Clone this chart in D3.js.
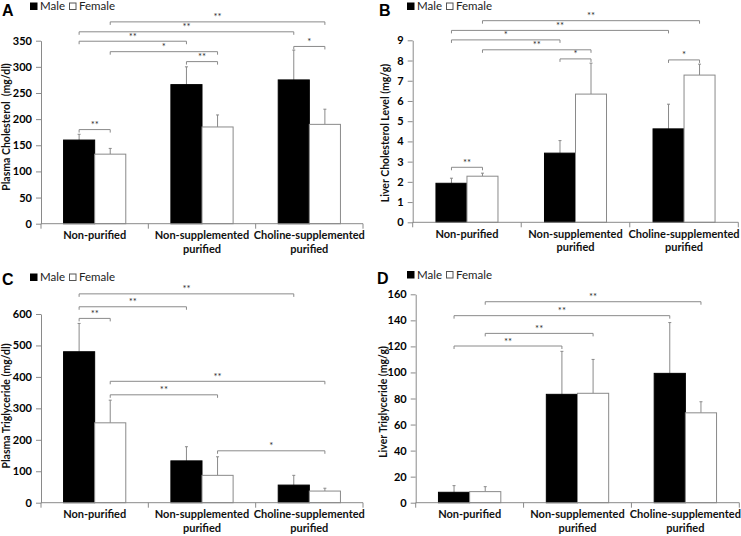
<!DOCTYPE html>
<html><head><meta charset="utf-8">
<script src="https://cdn.jsdelivr.net/npm/d3@7"></script>
<style>
body{margin:0;background:#fff;}
svg{display:block;font-family:Lato,"Open Sans",sans-serif;}
</style></head>
<body><svg id="chart" width="741" height="536"></svg>
<script>
// ---------- DATA ----------
const categories = [["Non-purified"], ["Non-supplemented","purified"], ["Choline-supplemented","purified"]];
const sexes = ["Male","Female"];

const plasmaCholMale = [160, 266, 275];
const plasmaCholMaleErr = [11, 34, 57];
const plasmaCholFemale = [133, 185, 190];
const plasmaCholFemaleErr = [11, 23, 29];
const plasmaCholTicks = [0,50,100,150,200,250,300,350];
// brackets: [cat,sex] -> [cat,sex], level (data units), label
const plasmaCholSig = [
  [[0,1],[2,1],386,"**"],[[0,0],[2,0],367,"**"],[[0,0],[1,0],349,"**"],
  [[0,1],[1,1],329,"*"],[[1,0],[1,1],310,"**"],[[2,0],[2,1],339,"*"],[[0,0],[0,1],180,"**"]];

const liverCholMale = [1.93, 3.42, 4.62];
const liverCholMaleErr = [0.25, 0.62, 1.22];
const liverCholFemale = [2.28, 6.34, 7.28];
const liverCholFemaleErr = [0.15, 1.53, 0.54];
const liverCholTicks = [0,1,2,3,4,5,6,7,8,9];
const liverCholSig = [
  [[0,1],[2,1],9.97,"**"],[[0,0],[2,0],9.49,"**"],[[0,0],[1,0],9.02,"*"],
  [[0,1],[1,1],8.53,"**"],[[1,0],[1,1],8.08,"*"],[[2,0],[2,1],8.03,"*"],[[0,0],[0,1],2.72,"**"]];

const plasmaTGMale = [480, 133, 56];
const plasmaTGMaleErr = [90, 45, 31];
const plasmaTGFemale = [254, 87, 37];
const plasmaTGFemaleErr = [72, 59, 9];
const plasmaTGTicks = [0,100,200,300,400,500,600];
const plasmaTGSig = [
  [[0,0],[2,0],664,"**"],[[0,0],[1,0],623,"**"],[[0,0],[0,1],586,"**"],
  [[0,1],[2,1],386,"**"],[[0,1],[1,1],343,"**"],[[1,1],[2,1],165,"*"]];

const liverTGMale = [8.0, 83.2, 99.3];
const liverTGMaleErr = [5.1, 33, 39];
const liverTGFemale = [8.5, 84, 69];
const liverTGFemaleErr = [3.8, 26, 8.5];
const liverTGTicks = [0,20,40,60,80,100,120,140,160];
const liverTGSig = [
  [[0,1],[2,1],154.3,"**"],[[0,0],[2,0],143.6,"**"],[[0,1],[1,1],130,"**"],[[0,0],[1,0],120.3,"**"]];

// ---------- DRAW ----------
const svg = d3.select("#chart");
const GREY = "#8a8a8a";

function panel(o){
  const g = svg.append("g");
  const y = d3.scaleLinear().domain([0, o.max]).range([o.y0, o.yTop]);
  const x0 = d3.scaleBand().domain(d3.range(categories.length)).range([o.left, o.right]).paddingInner(0).paddingOuter(0);
  const x1 = d3.scaleBand().domain(d3.range(sexes.length)).range([0, x0.bandwidth()]).paddingInner(0).paddingOuter(o.po);
  const vals = [o.male, o.female], errs = [o.maleErr, o.femaleErr];
  const bx = (c,s) => x0(c) + x1(s);
  const cx = (c,s) => bx(c,s) + x1.bandwidth()/2;

  // y axis
  const ya = g.append("g").attr("transform", `translate(${o.left},0)`)
    .call(d3.axisLeft(y).tickValues(o.ticks).tickSize(5).tickPadding(4).tickSizeOuter(0));
  ya.select(".domain").attr("stroke", GREY);
  ya.selectAll(".tick line").attr("stroke", GREY);
  ya.selectAll(".tick text").attr("font-size", 11).attr("font-weight", "bold").attr("fill", "#000")
    .attr("font-family", "Lato, sans-serif");

  // bars
  categories.forEach((cat, c) => {
    sexes.forEach((s, si) => {
      const v = vals[si][c], e = errs[si][c];
      g.append("line").attr("x1", cx(c,si)).attr("x2", cx(c,si))
        .attr("y1", y(v)).attr("y2", y(v+e)).attr("stroke", GREY).attr("stroke-width", 1);
      g.append("line").attr("x1", cx(c,si)-1.5).attr("x2", cx(c,si)+1.5)
        .attr("y1", y(v+e)).attr("y2", y(v+e)).attr("stroke", GREY).attr("stroke-width", 1);
      g.append("rect").attr("x", bx(c,si)).attr("y", y(v))
        .attr("width", x1.bandwidth()).attr("height", y(0)-y(v))
        .attr("fill", si===0 ? "#000" : "#fff")
        .attr("stroke", si===0 ? "#000" : GREY).attr("stroke-width", 1);
    });
  });

  // x axis
  g.append("line").attr("x1", o.left).attr("x2", o.right).attr("y1", o.y0).attr("y2", o.y0)
    .attr("stroke", GREY);
  const edges = d3.range(categories.length).map(c => x0(c)).concat([o.right]);
  edges.forEach(ex => g.append("line").attr("x1", ex).attr("x2", ex)
    .attr("y1", o.y0).attr("y2", o.y0+5).attr("stroke", GREY));
  categories.forEach((cat, c) => {
    cat.forEach((ln, li) => {
      g.append("text").attr("x", x0(c)+x0.bandwidth()/2).attr("y", o.y0+15.5+li*13.5)
        .attr("text-anchor", "middle").attr("font-size", 11).attr("font-weight", "bold")
        .attr("fill", "#111").text(ln);
    });
  });

  // significance brackets
  o.sig.forEach(([a,b,lvl,lab]) => {
    const xa = cx(a[0],a[1]), xb = cx(b[0],b[1]), yy = y(lvl);
    g.append("path").attr("d", `M${xa},${yy+3}V${yy}H${xb}V${yy+3}`)
      .attr("fill","none").attr("stroke", GREY).attr("stroke-width", 1);
    g.append("text").attr("x", (xa+xb)/2).attr("y", yy-1.5).attr("text-anchor","middle")
      .attr("font-size", 9.5).attr("fill", "#333").text(lab);
  });

  // y label
  g.append("text").attr("transform", `translate(${o.labX},${o.labY}) rotate(-90)`)
    .attr("text-anchor","middle").attr("font-size", 10.5).attr("font-weight","bold").attr("fill","#111")
    .attr("xml:space","preserve").text(o.label);

  // letter
  g.append("text").attr("x", o.letX).attr("y", o.letY).attr("font-family","Arial, 'Liberation Sans', sans-serif")
    .attr("font-size", 16).attr("font-weight","bold").text(o.letter);

  // legend
  const lg = g.append("g");
  sexes.forEach((s, si) => {
    const lx = o.legX + si*39;
    lg.append("rect").attr("x", lx+0.5).attr("y", o.legY+0.5).attr("width", 6.5).attr("height", 6.5)
      .attr("fill", si===0 ? "#000" : "#fff").attr("stroke", si===0 ? "#000" : "#555");
    lg.append("text").attr("x", lx+10).attr("y", o.legY+7.8).attr("font-size", 11.5).attr("fill","#222").text(s);
  });
}

panel({letter:"A", letX:2, letY:16, legX:30, legY:2.5,
  left:41, right:363, y0:223.7, yTop:40.7, max:350, po:0.725, ticks:plasmaCholTicks,
  male:plasmaCholMale, maleErr:plasmaCholMaleErr, female:plasmaCholFemale, femaleErr:plasmaCholFemaleErr,
  sig:plasmaCholSig, label:"Plasma Cholesterol  (mg/dl)", labX:10, labY:127});
panel({letter:"B", letX:379, letY:16, legX:407, legY:2.5,
  left:412.7, right:738.3, y0:222.3, yTop:40.3, max:9, po:0.75, ticks:liverCholTicks,
  male:liverCholMale, maleErr:liverCholMaleErr, female:liverCholFemale, femaleErr:liverCholFemaleErr,
  sig:liverCholSig, label:"Liver Cholesterol Level (mg/g)", labX:388.5, labY:133});
panel({letter:"C", letX:2, letY:285, legX:30, legY:273.5,
  left:41, right:363, y0:502.7, yTop:314, max:600, po:0.725, ticks:plasmaTGTicks,
  male:plasmaTGMale, maleErr:plasmaTGMaleErr, female:plasmaTGFemale, femaleErr:plasmaTGFemaleErr,
  sig:plasmaTGSig, label:"Plasma Triglyceride (mg/dl)", labX:10, labY:406});
panel({letter:"D", letX:377, letY:284, legX:407, legY:271,
  left:415.7, right:739.3, y0:502.7, yTop:294.3, max:160, po:0.73, ticks:liverTGTicks,
  male:liverTGMale, maleErr:liverTGMaleErr, female:liverTGFemale, femaleErr:liverTGFemaleErr,
  sig:liverTGSig, label:"Liver Triglyceride (mg/g)", labX:387, labY:402});
</script></body></html>
